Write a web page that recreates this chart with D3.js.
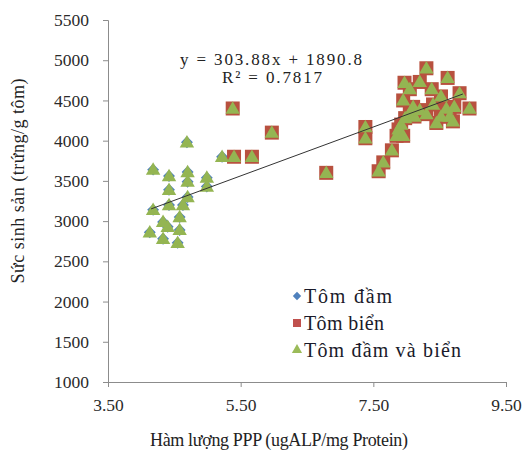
<!DOCTYPE html>
<html>
<head>
<meta charset="utf-8">
<script src="https://cdn.jsdelivr.net/npm/d3@7"></script>
<style>
  body { margin: 0; background: #fff; }
  text { font-family: "Liberation Serif", "DejaVu Serif", serif; }
</style>
</head>
<body>
<div id="chart-area"></div>
<script>
// data
let pondX = [4.18, 4.18, 4.13, 4.42, 4.42, 4.42, 4.33, 4.40, 4.33, 4.55, 4.70, 4.70, 4.70, 4.63, 4.58, 4.58, 4.99, 4.99, 4.69, 5.22];
let pondY = [3640, 3140, 2860, 3560, 3390, 3200, 2990, 2930, 2780, 2730, 3610, 3490, 3300, 3200, 3050, 2890, 3540, 3430, 3980, 3800];

let seaX = [5.38, 5.97, 5.40, 5.67, 6.79,
    7.38, 7.38, 7.58, 7.65, 7.78, 7.85, 7.88, 7.92, 7.98, 8.05, 8.12, 8.20, 8.30, 8.45, 8.52,
    8.60, 8.65, 8.72, 8.80, 8.95, 8.62, 8.30, 8.20, 7.97, 7.95, 8.05, 8.38, 8.52, 8.10, 8.40, 8.70, 7.95];
let seaY = [4400, 4100, 3800, 3800, 3600,
    4170, 4030, 3620, 3730, 3880, 4060, 4140, 4200, 4280, 4340, 4300, 4380, 4330, 4220, 4300,
    4400, 4300, 4420, 4590, 4400, 4780, 4900, 4730, 4720, 4500, 4640, 4640, 4550, 4420, 4450, 4240, 4060];

let seriesNames = ["Tôm đầm", "Tôm biển", "Tôm đầm và biển"];
let xTicks = [3.5, 5.5, 7.5, 9.5];
let yTicks = [1000, 1500, 2000, 2500, 3000, 3500, 4000, 4500, 5000, 5500];
let slope = 303.88, intercept = 1890.8;
let trendRange = [4.15, 8.85];

let margin = {top: 20, right: 17, bottom: 71, left: 108};
let width = 523 - margin.left - margin.right,
    height = 453 - margin.top - margin.bottom;

let svg = d3.select("#chart-area")
    .append("svg")
    .attr("width", 523)
    .attr("height", 453)
    .append("g")
    .attr("transform", "translate(" + margin.left + "," + margin.top + ")");

let x = d3.scaleLinear().domain([3.5, 9.5]).range([0, width]);
let y = d3.scaleLinear().domain([1000, 5500]).range([height, 0]);

let pond = pondX.map((v, i) => ({x: v, y: pondY[i]}));
let sea = seaX.map((v, i) => ({x: v, y: seaY[i]}));
let both = pond.concat(sea);

// axes
let xAxis = svg.append("g")
    .attr("transform", "translate(0," + height + ")")
    .call(d3.axisBottom(x).tickValues(xTicks).tickFormat(d3.format(".2f")).tickSizeOuter(0).tickSize(5));
let yAxis = svg.append("g")
    .call(d3.axisLeft(y).tickValues(yTicks).tickFormat(d3.format("d")).tickSizeOuter(0).tickSize(5));

[xAxis, yAxis].forEach(a => {
    a.selectAll("path, line").attr("stroke", "#8c8c8c");
    a.selectAll("text").attr("fill", "#2a2a2a").style("font-size", "17.5px")
        .style("font-family", "'Liberation Serif', serif");
});
xAxis.selectAll("text").attr("dy", "1.2em");
yAxis.selectAll("text").attr("x", -19);

// markers
let symDiamond = d3.symbol().type(d3.symbolDiamond2).size(90);
let symTri = d3.symbol().type(d3.symbolTriangle).size(90);

svg.selectAll(".pond")
    .data(pond)
    .enter().append("path")
    .attr("class", "pond")
    .attr("d", symDiamond)
    .attr("transform", d => "translate(" + x(d.x) + "," + y(d.y) + ")")
    .attr("fill", "#4F81BD");

svg.selectAll(".sea")
    .data(sea)
    .enter().append("rect")
    .attr("class", "sea")
    .attr("x", d => x(d.x) - 7)
    .attr("y", d => y(d.y) - 7)
    .attr("width", 14)
    .attr("height", 14)
    .attr("fill", "#B8513F");

svg.selectAll(".both")
    .data(both)
    .enter().append("path")
    .attr("class", "both")
    .attr("d", symTri)
    .attr("transform", d => "translate(" + x(d.x) + "," + (y(d.y) + 1) + ")")
    .attr("fill", "#94B552");

// trend line
svg.append("line")
    .attr("x1", x(trendRange[0]))
    .attr("y1", y(slope * trendRange[0] + intercept))
    .attr("x2", x(trendRange[1]))
    .attr("y2", y(slope * trendRange[1] + intercept))
    .attr("stroke", "#333")
    .attr("stroke-width", 1);

// equation
svg.append("text")
    .attr("x", 163)
    .attr("y", 45)
    .attr("text-anchor", "middle")
    .style("font-size", "17px")
    .attr("textLength", 182)
    .attr("fill", "#222")
    .text("y = 303.88x + 1890.8");
svg.append("text")
    .attr("x", 164)
    .attr("y", 63)
    .attr("text-anchor", "middle")
    .style("font-size", "17px")
    .attr("textLength", 100)
    .attr("fill", "#222")
    .text("R² = 0.7817");

// legend
let legend = svg.append("g").attr("transform", "translate(189,276)");
let legendSym = [
    g => g.append("path").attr("d", d3.symbol().type(d3.symbolDiamond2).size(45)).attr("fill", "#4F81BD"),
    g => g.append("rect").attr("x", -4).attr("y", -4).attr("width", 8).attr("height", 8).attr("fill", "#C0504D"),
    g => g.append("path").attr("d", d3.symbol().type(d3.symbolTriangle).size(45)).attr("fill", "#9BBB59")
];
let legendLen = [88, 80, 157];
seriesNames.forEach((name, i) => {
    let row = legend.append("g").attr("transform", "translate(0," + (i * 27) + ")");
    legendSym[i](row);
    row.append("text")
        .attr("x", 7)
        .attr("y", 0)
        .attr("dy", "0.35em")
        .style("font-size", "20px")
        .attr("textLength", legendLen[i])
        .attr("fill", "#1a1a2a")
        .text(name);
});

// axis titles
svg.append("text")
    .attr("x", width / 2 - 28)
    .attr("y", height + 64)
    .attr("text-anchor", "middle")
    .style("font-size", "18px")
    .attr("textLength", 258)
    .attr("fill", "#222")
    .text("Hàm lượng PPP (ugALP/mg Protein)");
svg.append("text")
    .attr("transform", "translate(-84," + (height / 2 - 20) + ") rotate(-90)")
    .attr("text-anchor", "middle")
    .style("font-size", "18px")
    .attr("textLength", 205)
    .attr("fill", "#222")
    .text("Sức sinh sản (trứng/g tôm)");
</script>
</body>
</html>
